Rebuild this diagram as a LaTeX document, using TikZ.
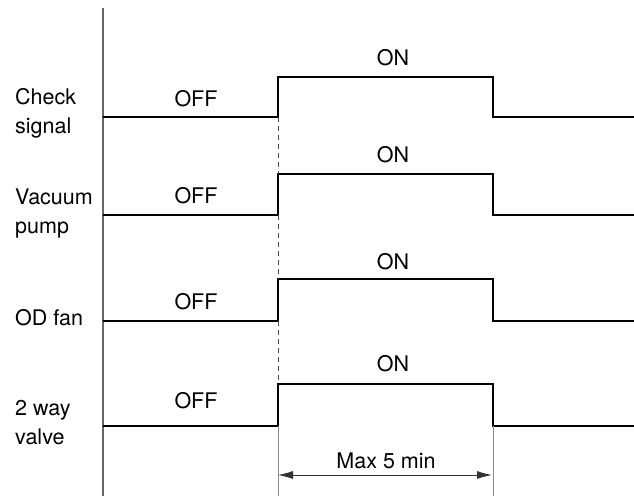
\documentclass[tikz,border=0pt]{standalone}
\usepackage{fontspec}
\setmainfont{TeX Gyre Heros}
\usetikzlibrary{arrows.meta}
\begin{document}
\begin{tikzpicture}[x=1pt,y=-1pt,
  sig/.style={line width=2.6pt,black,line join=miter},
  lbl/.style={font=\fontsize{21.5}{29}\selectfont,inner sep=0pt},
  side/.style={lbl,anchor=west,align=left},
  axisline/.style={line width=1.5pt,black!60},
  guide/.style={line width=0.9pt,black!45},
  dashguide/.style={line width=1pt,black!70,dash pattern=on 5pt off 4pt}]
\useasboundingbox (0,0) rectangle (634,496);
% axis
\coordinate (axT) at (103,8);
\coordinate (axB) at (103,496);
\draw[axisline] (axT) -- (axB);
% waveforms
\foreach \n/\lo/\hi in {a/117/77, b/215/174, c/321/279, d/426/384}{
  \coordinate (\n0) at (103,\lo);
  \coordinate (\n1) at (278,\lo);
  \coordinate (\n2) at (278,\hi);
  \coordinate (\n3) at (493,\hi);
  \coordinate (\n4) at (493,\lo);
  \coordinate (\n5) at (634,\lo);
  \draw[sig] (\n0) -- (\n1) -- (\n2) -- (\n3) -- (\n4) -- (\n5);
}
% dashed guide
\draw[dashguide] (a1) -- (b2);
\draw[dashguide] (b1) -- (c2);
\draw[dashguide] (c1) -- (d2);
% bottom guides
\coordinate (gL) at (278,496);
\coordinate (gR) at (493,496);
\draw[guide] (d1) -- (gL);
\draw[guide] (d4) -- (gR);
\coordinate (arL) at (278,475);
\coordinate (arR) at (492,475);
\draw[guide,black!80,{Latex[length=15pt,width=8pt]}-{Latex[length=15pt,width=8pt]}] (arL) -- (arR);
\node[lbl] (max) at (386,461) {Max 5 min};
% side labels
\node[side] (l1) at (15,113) {Check\\signal};
\node[side] (l2) at (15,214) {Vacuum\\pump};
\node[side] (l3) at (15,318) {OD fan};
\node[side] (l4) at (15,423) {2 way\\valve};
% OFF / ON
\node[lbl] (off1) at (196,99) {OFF};
\node[lbl] (off2) at (196,196) {OFF};
\node[lbl] (off3) at (196,302) {OFF};
\node[lbl] (off4) at (196,401) {OFF};
\node[lbl] (on1) at (393,58) {ON};
\node[lbl] (on2) at (393,155) {ON};
\node[lbl] (on3) at (393,262) {ON};
\node[lbl] (on4) at (393,364) {ON};
\end{tikzpicture}
\end{document}
